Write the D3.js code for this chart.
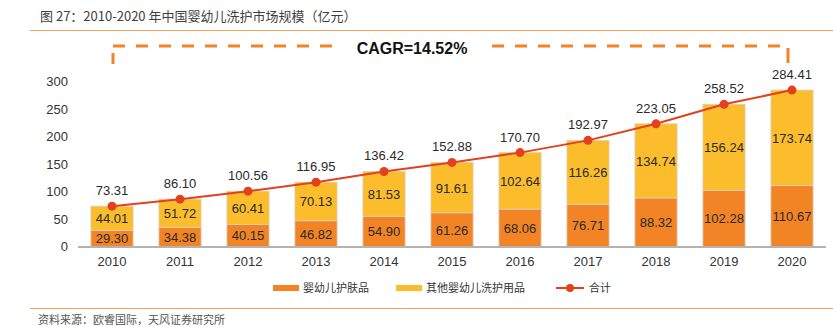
<!DOCTYPE html>
<html>
<head>
<meta charset="utf-8">
<script src="https://cdn.jsdelivr.net/npm/d3@7"></script>
<style>
  body { margin: 0; background: #fff; }
  svg { display: block; font-family: "Liberation Sans", Arial, "Noto Sans CJK SC", sans-serif; }
</style>
</head>
<body>
<div id="chart"></div>
<script>
const years = ["2010", "2011", "2012", "2013", "2014", "2015", "2016", "2017", "2018", "2019", "2020"];
const skinCare = [29.30, 34.38, 40.15, 46.82, 54.90, 61.26, 68.06, 76.71, 88.32, 102.28, 110.67];
const otherCare = [44.01, 51.72, 60.41, 70.13, 81.53, 91.61, 102.64, 116.26, 134.74, 156.24, 173.74];
const totals = [73.31, 86.10, 100.56, 116.95, 136.42, 152.88, 170.70, 192.97, 223.05, 258.52, 284.41];
const yTicks = [0, 50, 100, 150, 200, 250, 300];
const seriesNames = ["婴幼儿护肤品", "其他婴幼儿洗护用品", "合计"];
const cagrText = "CAGR=14.52%";

const W = 833, H = 327;
const colors = { skin: "#f28425", other: "#fbbd2c", line: "#e2401f", rule: "#f4a45e" };

const svg = d3.select("#chart").append("svg")
  .attr("width", W)
  .attr("height", H);

// header and footer
svg.append("text")
  .attr("x", 40).attr("y", 21)
  .style("font-family", "'Noto Sans CJK SC', sans-serif")
  .style("font-size", "13px")
  .attr("fill", "#404040")
  .text("图 27：2010-2020 年中国婴幼儿洗护市场规模（亿元）");

svg.append("line")
  .attr("x1", 30).attr("x2", W).attr("y1", 30.5).attr("y2", 30.5)
  .attr("stroke", colors.rule).attr("stroke-width", 1.2);

svg.append("line")
  .attr("x1", 30).attr("x2", W).attr("y1", 308.5).attr("y2", 308.5)
  .attr("stroke", colors.rule).attr("stroke-width", 1.2);

svg.append("text")
  .attr("x", 38).attr("y", 324)
  .style("font-family", "'Noto Sans CJK SC', sans-serif")
  .style("font-size", "11px")
  .attr("fill", "#555")
  .text("资料来源：欧睿国际，天风证券研究所");

// scales
const x = d3.scaleBand()
  .domain(years)
  .range([78, 826])
  .paddingInner(0.38)
  .paddingOuter(0.19);

const y = d3.scaleLinear()
  .domain([0, 300])
  .range([246.5, 81.5]);

// stacked bars
const rows = years.map((yr, i) => ({ year: yr, skin: skinCare[i], other: otherCare[i], total: totals[i] }));
const stack = d3.stack().keys(["skin", "other"])(rows);

svg.append("g").selectAll("g")
  .data(stack)
  .join("g")
  .attr("fill", d => colors[d.key])
  .selectAll("rect")
  .data(d => d)
  .join("rect")
  .attr("x", d => x(d.data.year))
  .attr("y", d => y(d[1]))
  .attr("width", x.bandwidth())
  .attr("height", d => y(d[0]) - y(d[1]))
  .attr("stroke", "#d9d0c4")
  .attr("stroke-width", 0.8);

// segment value labels
svg.append("g").selectAll("g")
  .data(stack)
  .join("g")
  .selectAll("text")
  .data(d => d)
  .join("text")
  .attr("x", d => x(d.data.year) + x.bandwidth() / 2)
  .attr("y", d => (y(d[0]) + y(d[1])) / 2 + 5)
  .attr("text-anchor", "middle")
  .style("font-size", "13px")
  .attr("fill", "#2a2a2a")
  .text(d => (d[1] - d[0]).toFixed(2));

// x axis
const xAxis = svg.append("g")
  .attr("transform", `translate(0,${y(0)})`)
  .call(d3.axisBottom(x).tickSize(0).tickPadding(10));
xAxis.select(".domain")
  .attr("d", `M78,0.5H826`)
  .attr("stroke", "#b3b3b3").attr("stroke-width", 2);
xAxis.selectAll("text")
  .style("font-size", "13px")
  .style("font-family", "'Liberation Sans', Arial, sans-serif")
  .attr("fill", "#333");

// y axis
const yAxis = svg.append("g")
  .attr("transform", "translate(68,0)")
  .call(d3.axisLeft(y).tickValues(yTicks).tickSize(0).tickPadding(0));
yAxis.select(".domain").remove();
yAxis.selectAll("text")
  .style("font-size", "13px")
  .style("font-family", "'Liberation Sans', Arial, sans-serif")
  .attr("fill", "#333");

// total line
const cx = d => x(d) + x.bandwidth() / 2;
svg.append("path")
  .datum(rows)
  .attr("fill", "none")
  .attr("stroke", colors.line)
  .attr("stroke-width", 2)
  .attr("d", d3.line().x(d => cx(d.year)).y(d => y(d.total)));

svg.append("g").selectAll("circle")
  .data(rows)
  .join("circle")
  .attr("cx", d => cx(d.year))
  .attr("cy", d => y(d.total))
  .attr("r", 4.5)
  .attr("fill", colors.line);

svg.append("g").selectAll("text")
  .data(rows)
  .join("text")
  .attr("x", d => cx(d.year))
  .attr("y", d => y(d.total) - 11)
  .attr("text-anchor", "middle")
  .style("font-size", "13px")
  .attr("fill", "#2a2a2a")
  .text(d => d.total.toFixed(2));

// CAGR bracket
const bx0 = cx(years[0]) + 1, bx1 = cx(years[years.length - 1]) - 4;
const bracket = svg.append("g")
  .attr("fill", "none")
  .attr("stroke", colors.skin)
  .attr("stroke-width", 3);
bracket.append("line")
  .attr("x1", bx0).attr("x2", bx0).attr("y1", 53).attr("y2", 64);
bracket.append("line")
  .attr("x1", bx0).attr("x2", 340).attr("y1", 46).attr("y2", 46)
  .attr("stroke-dasharray", "12,11");
bracket.append("line")
  .attr("x1", 492).attr("x2", bx1 - 4).attr("y1", 46).attr("y2", 46)
  .attr("stroke-dasharray", "12,11");
bracket.append("line")
  .attr("x1", bx1).attr("x2", bx1).attr("y1", 48).attr("y2", 63);

svg.append("text")
  .attr("x", 412).attr("y", 54)
  .attr("text-anchor", "middle")
  .style("font-size", "16px")
  .style("font-weight", "bold")
  .attr("fill", "#111")
  .text(cagrText);

// legend
const legend = svg.append("g")
  .style("font-family", "'Noto Sans CJK SC', sans-serif")
  .style("font-size", "11px")
  .attr("fill", "#333");

legend.append("rect").attr("x", 273).attr("y", 285).attr("width", 26).attr("height", 6).attr("fill", colors.skin);
legend.append("text").attr("x", 303).attr("y", 292).text(seriesNames[0]);
legend.append("rect").attr("x", 396).attr("y", 285).attr("width", 26).attr("height", 6).attr("fill", colors.other);
legend.append("text").attr("x", 426).attr("y", 292).text(seriesNames[1]);
legend.append("line").attr("x1", 556).attr("x2", 584).attr("y1", 288).attr("y2", 288)
  .attr("stroke", colors.line).attr("stroke-width", 2);
legend.append("circle").attr("cx", 570).attr("cy", 288).attr("r", 4).attr("fill", colors.line);
legend.append("text").attr("x", 589).attr("y", 292).text(seriesNames[2]);
</script>
</body>
</html>
